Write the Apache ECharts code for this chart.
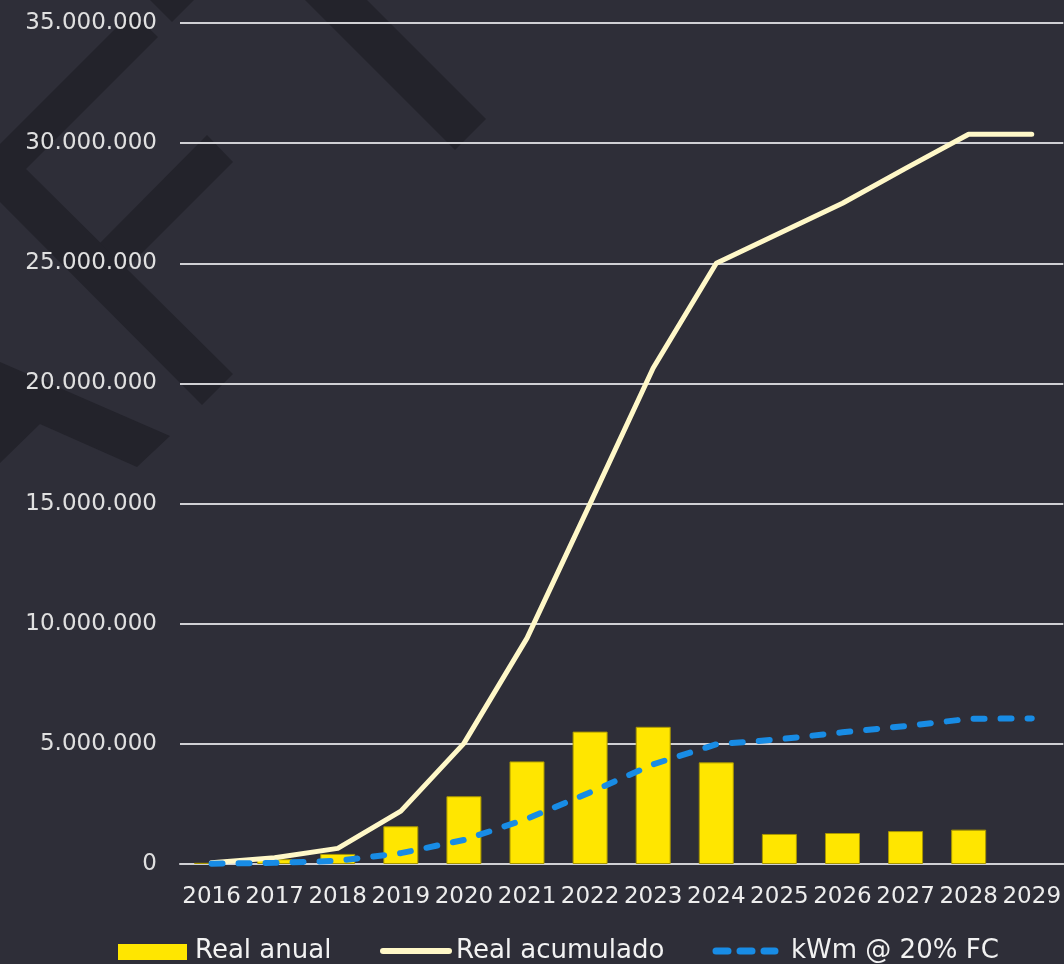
<!DOCTYPE html>
<html>
<head>
<meta charset="utf-8">
<script src="https://cdn.jsdelivr.net/npm/echarts@6/dist/echarts.min.js"></script>
<style>
html,body{margin:0;padding:0;background:#2E2E38;}
#chart{width:1064px;height:964px;}
</style>
</head>
<body>
<div id="chart"></div>
<script>
const years = ['2016','2017','2018','2019','2020','2021','2022','2023','2024','2025','2026','2027','2028','2029'];
const realAnual = [50000, 200000, 420000, 1570000, 2820000, 4270000, 5510000, 5710000, 4230000, 1250000, 1290000, 1370000, 1430000, null];
const realAcumulado = [50000, 260000, 650000, 2200000, 5020000, 9400000, 15000000, 20640000, 25000000, 26250000, 27500000, 28950000, 30370000, 30370000];
const kwm20 = [10000, 50000, 130000, 450000, 1000000, 1880000, 2980000, 4150000, 4980000, 5190000, 5480000, 5740000, 6040000, 6060000];
const seriesNames = ['Real anual', 'Real acumulado', 'kWm @ 20% FC'];

const FONT = 'DejaVu Sans';
const C_BAR = '#FFE600', C_CUM = '#FFF8C8', C_KWM = '#188CE5';
const fmt = v => String(v).replace(/\B(?=(\d{3})+(?!\d))/g, '.');
const deco = '#23232B';
const shapes = [
  [[305,0],[367,0],[486,119],[455,150]],
  [[150,0],[194,0],[172,22]],
  [[132,12],[158,37],[26,169],[233,374],[202,405],[0,202],[0,144]],
  [[207,135],[233,162],[126,269],[100,243]],
  [[0,362],[170,436],[137,467],[40,424],[0,463]]
];

const legendFont = '26px "DejaVu Sans"';
const LY = 951;
const legendGraphics = [
  {type:'rect', shape:{x:118, y:944, width:69, height:16}, style:{fill:C_BAR}},
  {type:'text', x:195, y:LY, style:{text:seriesNames[0], fill:'#F2F2F2', font:legendFont, verticalAlign:'middle'}},
  {type:'line', shape:{x1:383, y1:LY, x2:449, y2:LY}, style:{stroke:C_CUM, lineWidth:6, lineCap:'round'}},
  {type:'text', x:456, y:LY, style:{text:seriesNames[1], fill:'#F2F2F2', font:legendFont, verticalAlign:'middle'}},
  {type:'line', shape:{x1:716, y1:LY, x2:775, y2:LY}, style:{stroke:C_KWM, lineWidth:7, lineCap:'round', lineDash:[12,12]}},
  {type:'text', x:791, y:LY, style:{text:seriesNames[2], fill:'#F2F2F2', font:legendFont, verticalAlign:'middle'}}
];

const chart = echarts.init(document.getElementById('chart'), null, {renderer:'canvas'});
chart.setOption({
  backgroundColor: '#2E2E38',
  animation: false,
  graphic: shapes.map(p => ({type:'polygon', z:-10, silent:true, shape:{points:p}, style:{fill:deco}}))
    .concat(legendGraphics.map(g => Object.assign({silent:true, z:10}, g))),
  grid: {left:180, right:0, top:23, bottom:100, containLabel:false},
  legend: {show:false, data: seriesNames},
  xAxis: {
    type:'category', data: years,
    axisLine:{show:true, lineStyle:{color:'#D0D0D4', width:2}},
    axisTick:{show:false},
    axisLabel:{color:'#EDEDED', fontFamily:FONT, fontSize:23, margin:22, interval:0}
  },
  yAxis: {
    type:'value', min:0, max:35000000, interval:5000000,
    axisLine:{show:false}, axisTick:{show:false},
    splitLine:{show:true, lineStyle:{color:'#D0D0D4', width:2}},
    axisLabel:{color:'#E0E0E0', fontFamily:FONT, fontSize:23, margin:23, formatter: fmt}
  },
  series: [
    {name:seriesNames[0], type:'bar', data: realAnual, barWidth:35,
     itemStyle:{color:C_BAR, borderColor:'#A89600', borderWidth:1}},
    {name:seriesNames[1], type:'line', data: realAcumulado, symbol:'none',
     itemStyle:{color:C_CUM},
     lineStyle:{color:C_CUM, width:5, cap:'round', join:'round'}},
    {name:seriesNames[2], type:'line', data: kwm20, symbol:'none',
     itemStyle:{color:C_KWM},
     lineStyle:{color:C_KWM, width:6, type:[11,16], cap:'round'}}
  ]
});
</script>
</body>
</html>
